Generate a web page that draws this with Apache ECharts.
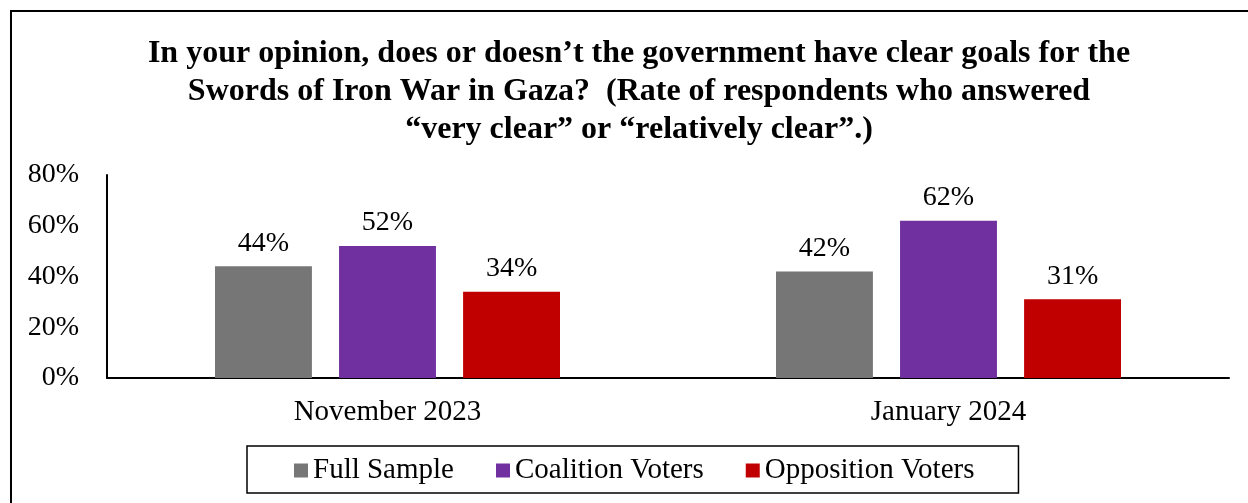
<!DOCTYPE html>
<html>
<head>
<meta charset="utf-8">
<script src="https://cdn.jsdelivr.net/npm/echarts@6/dist/echarts.min.js"></script>
<style>
  html, body { margin: 0; padding: 0; background: #fff; }
  #chart { width: 1248px; height: 503px; }
</style>
</head>
<body>
<div id="chart"></div>
<script>
// Survey waves and respondent groups
const categories = ['November 2023', 'January 2024'];
const seriesNames = ['Full Sample', 'Coalition Voters', 'Opposition Voters'];
const fullSample = [44, 42];
const coalitionVoters = [52, 62];
const oppositionVoters = [34, 31];
const seriesColors = ['#767676', '#7030A0', '#C00000'];
const titleText = 'In your opinion, does or doesn\u2019t the government have clear goals for the\nSwords of Iron War in Gaza?  (Rate of respondents who answered\n\u201cvery clear\u201d or \u201crelatively clear\u201d.)';

const FONT = '"Liberation Serif", "Times New Roman", serif';
const seriesValues = [fullSample, coalitionVoters, oppositionVoters];

const chart = echarts.init(document.getElementById('chart'), null, { renderer: 'canvas' });

chart.setOption({
  backgroundColor: '#fff',
  animation: false,
  title: {
    text: titleText,
    left: 634,
    textAlign: 'center',
    top: 30,
    textStyle: {
      fontFamily: FONT,
      fontWeight: 'bold',
      fontSize: 32,
      lineHeight: 38,
      color: '#000'
    }
  },
  graphic: [{
    type: 'rect',
    shape: { x: 11, y: 11, width: 1400, height: 700 },
    style: { fill: 'none', stroke: '#000', lineWidth: 2 },
    silent: true
  }],
  legend: {
    data: seriesNames,
    left: 247,
    top: 446,
    itemWidth: 14,
    itemHeight: 14,
    itemGap: 42,
    icon: 'rect',
    borderColor: '#000',
    borderWidth: 1.5,
    padding: [10, 44, 8, 47],
    textStyle: { fontFamily: FONT, fontSize: 29, color: '#000' }
  },
  grid: { left: 107, right: 19, top: 175, bottom: 125 },
  xAxis: {
    type: 'category',
    data: categories,
    axisLine: { lineStyle: { color: '#000', width: 2 } },
    axisTick: { show: false },
    axisLabel: { fontFamily: FONT, fontSize: 29, color: '#000', margin: 20 }
  },
  yAxis: {
    type: 'value',
    min: 0,
    max: 80,
    interval: 20,
    axisLine: { show: true, lineStyle: { color: '#000', width: 2 } },
    axisTick: { show: false },
    splitLine: { show: false },
    axisLabel: {
      fontFamily: FONT, fontSize: 28, color: '#000', margin: 28,
      formatter: v => v + '%'
    }
  },
  series: seriesNames.map((name, i) => ({
    name,
    type: 'bar',
    data: seriesValues[i],
    barGap: '28%',
    barCategoryGap: '38.5%',
    itemStyle: { color: seriesColors[i] },
    label: {
      show: true,
      position: 'top',
      distance: 9,
      formatter: p => p.value + '%',
      fontFamily: FONT,
      fontSize: 28,
      color: '#000'
    }
  }))
});
</script>
</body>
</html>
